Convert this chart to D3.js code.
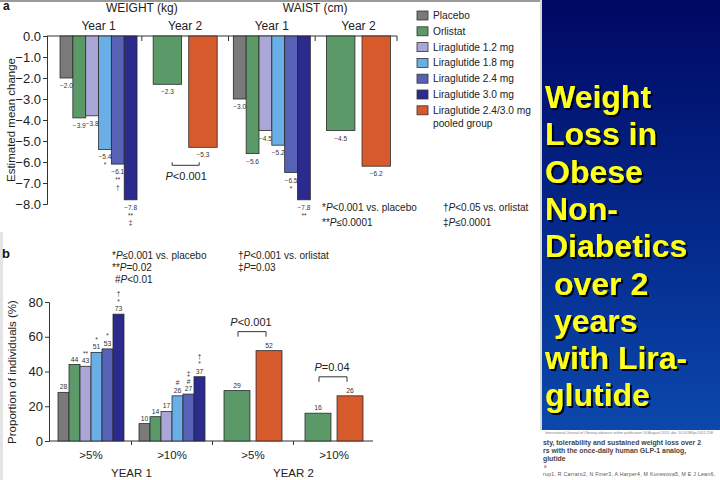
<!DOCTYPE html>
<html><head><meta charset="utf-8">
<script src="https://cdn.jsdelivr.net/npm/d3@7"></script>
<style>
html,body{margin:0;padding:0;background:#fff;}
svg{display:block;font-family:"Liberation Sans",Arial,Helvetica,sans-serif;}
</style></head><body>
<svg id="chart" width="720" height="480"></svg>
<script>
// ---------- data ----------
const seriesNames = ["Placebo","Orlistat","Liraglutide 1.2 mg","Liraglutide 1.8 mg","Liraglutide 2.4 mg","Liraglutide 3.0 mg","Liraglutide 2.4/3.0 mg pooled group"];
const seriesColors = ["#7a7a7a","#5b9a68","#aaa7d8","#6aaee8","#5562b6","#2b2b8e","#d65a2b"];
const year1Series = [0,1,2,3,4,5];
const year2Series = [1,6];

const panelAGroups = ["Weight Y1","Weight Y2","Waist Y1","Waist Y2"];
const weightYear1 = [-2.0,-3.9,-3.8,-5.4,-6.1,-7.8];
const weightYear2 = [-2.3,-5.3];
const waistYear1 = [-3.0,-5.6,-4.5,-5.2,-6.5,-7.8];
const waistYear2 = [-4.5,-6.2];
const weightYear1Marks = ["","","","*","**|†","**|‡"];
const waistYear1Marks = ["","","","","*","**"];
const yTicksA = [0,-1,-2,-3,-4,-5,-6,-7,-8];

const panelBGroups = [">5% Y1",">10% Y1",">5% Y2",">10% Y2"];
const panelBLabels = [">5%",">10%",">5%",">10%"];
const over5Year1 = [28,44,43,51,53,73];
const over10Year1 = [10,14,17,26,27,37];
const over5Year2 = [29,52];
const over10Year2 = [16,26];
const over5Year1Marks = ["","","**","*","*","†|*"];
const over10Year1Marks = ["","","","#","‡|#","†|*"];
const yTicksB = [0,20,40,60,80];

const titleLines = ["Weight","Loss in","Obese","Non-","Diabetics"," over 2"," years","with Lira-","glutide"];

// ---------- drawing ----------
const svg = d3.select("#chart");
const ink = "#222";

const defs = svg.append("defs");
const grad = defs.append("linearGradient").attr("id","bluegrad").attr("x1",0).attr("y1",0).attr("x2",0).attr("y2",1);
grad.append("stop").attr("offset","0%").attr("stop-color","#000863");
grad.append("stop").attr("offset","55%").attr("stop-color","#042a8c");
grad.append("stop").attr("offset","100%").attr("stop-color","#0c48ac");
const flt = defs.append("filter").attr("id","shadow").attr("x","-10%").attr("y","-20%").attr("width","130%").attr("height","150%");
flt.append("feDropShadow").attr("dx",2).attr("dy",2).attr("stdDeviation",0.6).attr("flood-color","#000010").attr("flood-opacity",0.95);

svg.append("rect").attr("x",0).attr("y",0).attr("width",542).attr("height",2).attr("fill","#9a9a9a");
svg.append("rect").attr("x",0).attr("y",232).attr("width",3).attr("height",248).attr("fill","#e4e4e4");
svg.append("rect").attr("x",540).attr("y",0).attr("width",2).attr("height",430).attr("fill","#d8d8d8");
svg.append("rect").attr("x",542).attr("y",0).attr("width",178).attr("height",430).attr("fill","url(#bluegrad)");

// title text in blue panel
const tg = svg.append("g").attr("filter","url(#shadow)")
  .style("font-family","'Liberation Sans',Arial,sans-serif").style("font-weight","bold").style("font-size","32px");
titleLines.forEach((t,i)=>{
  tg.append("text").attr("x",545).attr("y",108 + i*37.3).attr("fill","#ffff1a").text(t.replace(/^ /,"\u00a0"));
});

// citation text below blue panel
const cg = svg.append("g").style("font-family","'Liberation Sans',Arial,sans-serif");
cg.append("text").attr("x",545).attr("y",434).attr("font-size",4).attr("fill","#888")
  .attr("textLength",168).text("International Journal of Obesity advance online publication 16 August 2011; doi: 10.1038/ijo.2011.158");
[["sty, tolerability and sustained weight loss over 2",445],["rs with the once-daily human GLP-1 analog,",453],["glutide",461]].forEach(d=>{
  cg.append("text").attr("x",543).attr("y",d[1]).attr("font-size",6.9).attr("font-weight","bold").attr("fill","#444").text(d[0]);
});
cg.append("text").attr("x",544).attr("y",468).attr("font-size",4.5).attr("fill","#d33").text("a");
cg.append("text").attr("x",543).attr("y",476).attr("font-size",5.2).attr("fill","#555")
  .attr("textLength",172).text("rup1, R Carraro2, N Finer3, A Harper4, M Kunesova5, M E J Lean6,");

function rich(g, x, y, str, size, anchor){
  const t = g.append("text").attr("x",x).attr("y",y).attr("font-size",size).attr("fill",ink).attr("text-anchor",anchor||"start");
  const idx = str.indexOf("P");
  if(idx<0){ t.text(str); return t; }
  if(idx>0) t.append("tspan").text(str.slice(0,idx));
  t.append("tspan").attr("font-style","italic").text("P");
  t.append("tspan").text(str.slice(idx+1));
  return t;
}

// ===== Panel a =====
const gA = svg.append("g");
gA.append("text").attr("x",3).attr("y",10).attr("font-size",12).attr("font-weight","bold").attr("fill","#111").text("a");
const yA = d3.scaleLinear().domain([-8,0]).range([204,36]);
const xA = d3.scaleBand().domain(panelAGroups).range([55.2,401.8]);
const fmtA = d3.format(".1f");

gA.append("g").attr("transform","translate(47,0)")
  .call(d3.axisLeft(yA).tickValues(yTicksA).tickFormat(fmtA).tickSize(4).tickPadding(2))
  .call(g=>{g.selectAll("text").attr("font-size",13).attr("fill",ink).style("font-family","'Liberation Sans',Arial,sans-serif");
            g.selectAll("line,path").attr("stroke","#333");});
gA.append("line").attr("x1",47).attr("x2",397).attr("y1",yA(0)).attr("y2",yA(0)).attr("stroke","#333");
[xA(panelAGroups[1]),xA(panelAGroups[2]),xA(panelAGroups[3]),397].forEach(x=>{
  gA.append("line").attr("x1",x).attr("x2",x).attr("y1",yA(0)).attr("y2",yA(0)+5).attr("stroke","#333");
});
gA.append("text").attr("transform","translate(15,120) rotate(-90)").attr("text-anchor","middle").attr("font-size",11.5).attr("fill",ink).text("Estimated mean change");

const gc = g => xA(g)+xA.bandwidth()/2;
gA.append("text").attr("x",xA(panelAGroups[1])).attr("y",12).attr("text-anchor","middle").attr("font-size",12).attr("fill",ink).text("WEIGHT (kg)");
gA.append("text").attr("x",xA(panelAGroups[3])).attr("y",12).attr("text-anchor","middle").attr("font-size",12).attr("fill",ink).text("WAIST (cm)");
panelAGroups.forEach((g,i)=>{
  gA.append("text").attr("x",gc(g)).attr("y",30).attr("text-anchor","middle").attr("font-size",12).attr("fill",ink).text(i%2===0?"Year 1":"Year 2");
});

function drawNegBars(group, values, seriesIdx, marks, wide){
  const c = gc(group);
  const inner = wide
    ? d3.scaleBand().domain(seriesIdx).range([c-32,c+32]).paddingInner(0.2)
    : d3.scaleBand().domain(seriesIdx).range([c-38.5,c+38.5]);
  values.forEach((v,i)=>{
    const s = seriesIdx[i];
    const x = inner(s), w = inner.bandwidth();
    gA.append("rect").attr("x",x).attr("y",yA(0)).attr("width",w).attr("height",yA(v)-yA(0))
      .attr("fill",seriesColors[s]).attr("stroke","#2a2a2a").attr("stroke-width",0.8);
    const cx = x+w/2;
    gA.append("text").attr("x",cx).attr("y",yA(v)+10).attr("text-anchor","middle").attr("font-size",6.5).attr("fill","#333").text(fmtA(v));
    if(marks && marks[i]){
      marks[i].split("|").forEach((m,k)=>{
        gA.append("text").attr("x",cx).attr("y",yA(v)+18+k*7.6).attr("text-anchor","middle").attr("font-size",6.5).attr("fill","#333").text(m);
      });
    }
  });
  return inner;
}
drawNegBars(panelAGroups[0], weightYear1, year1Series, weightYear1Marks, false);
drawNegBars(panelAGroups[1], weightYear2, year2Series, null, true);
drawNegBars(panelAGroups[2], waistYear1, year1Series, waistYear1Marks, false);
drawNegBars(panelAGroups[3], waistYear2, year2Series, null, true);

{
  const c = gc(panelAGroups[1]);
  const by = yA(d3.min(weightYear2))+18;
  gA.append("path").attr("d",`M${c-13},${by-3}V${by}H${c+14}V${by-3}`).attr("fill","none").attr("stroke","#333");
  rich(gA, c+1, by+15, "P<0.001", 11, "middle");
}

// legend
const lg = svg.append("g");
const legendRows = [0,1,2,3,4,5,6];
legendRows.forEach((s,i)=>{
  const yy = 15.5 + i*15.8;
  lg.append("rect").attr("x",417).attr("y",yy-4.5).attr("width",11).attr("height",9).attr("fill",seriesColors[s]).attr("stroke","#333").attr("stroke-width",0.8);
  const name = seriesNames[s];
  if(name.indexOf(" pooled")>0){
    lg.append("text").attr("x",433).attr("y",yy+3.5).attr("font-size",10.2).attr("fill",ink).text(name.replace(" pooled group",""));
    lg.append("text").attr("x",433).attr("y",yy+17).attr("font-size",10.2).attr("fill",ink).text("pooled group");
  } else {
    lg.append("text").attr("x",433).attr("y",yy+3.5).attr("font-size",10.2).attr("fill",ink).text(name);
  }
});

rich(gA, 322, 211, "*P<0.001 vs. placebo", 10);
rich(gA, 322, 226, "**P≤0.0001", 10);
rich(gA, 443, 211, "†P<0.05 vs. orlistat", 10);
rich(gA, 443, 226, "‡P≤0.0001", 10);

// ===== Panel b =====
const gB = svg.append("g");
gB.append("text").attr("x",2).attr("y",258).attr("font-size",13).attr("font-weight","bold").attr("fill","#111").text("b");
rich(gB, 112, 259, "*P≤0.001 vs. placebo", 10);
rich(gB, 112, 271, "**P=0.02", 10);
rich(gB, 115, 283, "#P<0.01", 10);
rich(gB, 238, 259, "†P<0.001 vs. orlistat", 10);
rich(gB, 238, 271, "‡P=0.03", 10);

const yB = d3.scaleLinear().domain([0,80]).range([441,302]);
const xB = d3.scaleBand().domain(panelBGroups).range([50.5,374.5]);
const gcB = g => xB(g)+xB.bandwidth()/2;

gB.append("g").attr("transform","translate(49,0)")
  .call(d3.axisLeft(yB).tickValues(yTicksB).tickSize(4).tickPadding(2))
  .call(g=>{g.selectAll("text").attr("font-size",13).attr("fill",ink).style("font-family","'Liberation Sans',Arial,sans-serif");
            g.selectAll("line,path").attr("stroke","#333");});
gB.append("line").attr("x1",49).attr("x2",373).attr("y1",yB(0)).attr("y2",yB(0)).attr("stroke","#333");
[xB(panelBGroups[1]),xB(panelBGroups[2]),xB(panelBGroups[3])].forEach(x=>{
  gB.append("line").attr("x1",x).attr("x2",x).attr("y1",yB(0)).attr("y2",yB(0)+4).attr("stroke","#333");
});
gB.append("text").attr("transform","translate(16,372) rotate(-90)").attr("text-anchor","middle").attr("font-size",11.5).attr("fill",ink).text("Proportion of individuals (%)");

panelBGroups.forEach((g,i)=>{
  gB.append("text").attr("x",gcB(g)).attr("y",459).attr("text-anchor","middle").attr("font-size",11.5).attr("fill",ink).text(panelBLabels[i]);
});
gB.append("text").attr("x",xB(panelBGroups[1])).attr("y",477).attr("text-anchor","middle").attr("font-size",11.5).attr("fill",ink).text("YEAR 1");
gB.append("text").attr("x",xB(panelBGroups[3])).attr("y",477).attr("text-anchor","middle").attr("font-size",11.5).attr("fill",ink).text("YEAR 2");

function drawPosBars(group, values, seriesIdx, marks, wide){
  const c = gcB(group);
  const inner = wide
    ? d3.scaleBand().domain(seriesIdx).range([c-29,c+29]).paddingInner(0.19)
    : d3.scaleBand().domain(seriesIdx).range([c-33,c+33]);
  values.forEach((v,i)=>{
    const s = seriesIdx[i];
    const x = inner(s), w = inner.bandwidth();
    gB.append("rect").attr("x",x).attr("y",yB(v)).attr("width",w).attr("height",yB(0)-yB(v))
      .attr("fill",seriesColors[s]).attr("stroke","#2a2a2a").attr("stroke-width",0.8);
    const cx = x+w/2;
    gB.append("text").attr("x",cx).attr("y",yB(v)-3).attr("text-anchor","middle").attr("font-size",6.8).attr("fill","#333").text(v);
    if(marks && marks[i]){
      const ms = marks[i].split("|").reverse();
      ms.forEach((m,k)=>{
        gB.append("text").attr("x",cx).attr("y",yB(v)-10.5-k*7.6).attr("text-anchor","middle").attr("font-size",6.5).attr("fill","#333").text(m);
      });
    }
  });
}
drawPosBars(panelBGroups[0], over5Year1, year1Series, over5Year1Marks, false);
drawPosBars(panelBGroups[1], over10Year1, year1Series, over10Year1Marks, false);
drawPosBars(panelBGroups[2], over5Year2, year2Series, null, true);
drawPosBars(panelBGroups[3], over10Year2, year2Series, null, true);

function bracketB(group, values, label){
  const c = gcB(group);
  const by = yB(d3.max(values))-19;
  gB.append("path").attr("d",`M${c-15},${by+5}V${by}H${c+13}V${by+5}`).attr("fill","none").attr("stroke","#333");
  rich(gB, c-2, by-6, label, 11, "middle");
}
bracketB(panelBGroups[2], over5Year2, "P<0.001");
bracketB(panelBGroups[3], over10Year2, "P=0.04");
</script>
</body></html>
